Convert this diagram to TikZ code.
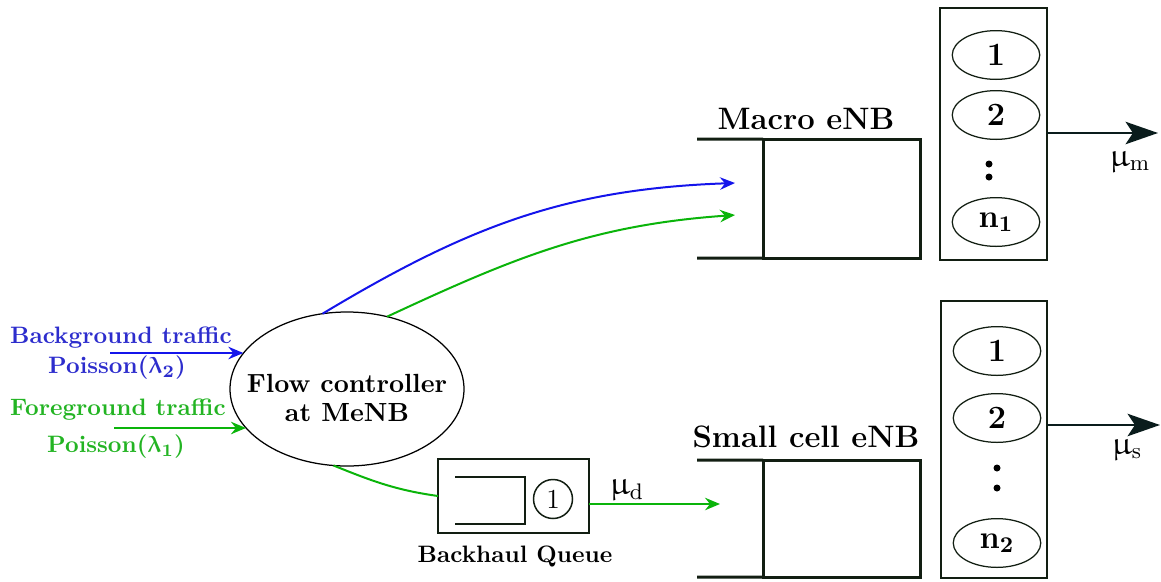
\documentclass[tikz,border=0pt]{standalone}
\usepackage{amsmath}
\usepackage{upgreek}
\usepackage{bm}
\usetikzlibrary{shapes.geometric,arrows.meta}
\definecolor{bgblue}{RGB}{20,20,235}
\definecolor{bgtext}{RGB}{45,45,205}
\definecolor{fggreen}{RGB}{10,180,10}
\definecolor{fgtext}{RGB}{35,180,35}
\definecolor{qline}{RGB}{18,30,18}
\definecolor{outarrow}{RGB}{10,28,28}
\tikzset{
  qedge/.style={draw=qline,line width=1.2pt},
  srvbox/.style={draw=qline,line width=0.6pt,rectangle,inner sep=0pt,outer sep=0pt},
  srv/.style={draw=qline,ellipse,line width=0.5pt,minimum width=35pt,minimum height=19.5pt,inner sep=0pt,font=\fontsize{13}{14}\selectfont\bfseries},
  flowarrow/.style={line width=0.8pt,-{Stealth[length=6pt,width=5pt,inset=2pt]}},
  bigarrow/.style={draw=outarrow,line width=0.8pt,-{Stealth[length=13pt,width=9pt,inset=3pt]}},
  lbl/.style={inner sep=0pt,font=\fontsize{9.5}{11}\selectfont\bfseries},
  title/.style={inner sep=0pt,font=\fontsize{12.4}{14}\selectfont\bfseries},
  mulbl/.style={inner sep=0pt,font=\fontsize{13}{14}\selectfont},
  dotc/.style={circle,fill=black,inner sep=0pt,minimum size=2.8pt},
}
\begin{document}
\begin{tikzpicture}[x=0.4pt,y=0.4pt]
\useasboundingbox (0,0) rectangle (1161,-581);

% flow controller
\node[draw,ellipse,line width=0.5pt,minimum width=93.6pt,minimum height=61.6pt,inner sep=0pt,outer sep=0pt] (fc) at (347,-389) {};
\node[align=center,inner sep=0pt,font=\fontsize{10.5}{11.5}\selectfont\bfseries] (fct) at (347,-398) {Flow controller\\at MeNB};

% input traffic
\node[lbl,text=bgtext] (bgl) at (121,-338) {Background traffic};
\node[lbl,text=bgtext] (bgp) at (117,-368) {Poisson($\bm{\uplambda_2}$)};
\node[lbl,text=fgtext] (fgl) at (118,-410) {Foreground traffic};
\node[lbl,text=fgtext] (fgp) at (116,-447) {Poisson($\bm{\uplambda_1}$)};
\coordinate (bgs) at (110,-353);
\coordinate (fgs) at (114,-428);
\draw[flowarrow,bgblue] (bgs) -- (bgs -| fc.161);
\draw[flowarrow,fggreen] (fgs) -- (fgs -| fc.201);

% macro eNB queue
\node[rectangle,qedge,minimum width=62.8pt,minimum height=47.6pt,inner sep=0pt,outer sep=0pt] (mq) at (841.5,-198.5) {};
\coordinate (mqt) at (697,-139);
\coordinate (mqb) at (697,-258);
\draw[qedge] (mqt) -- (mq.north west);
\draw[qedge] (mqb) -- (mq.south west);
\node[title] (mql) at (806,-119) {Macro eNB};

% macro servers
\node[srvbox,minimum width=42.8pt,minimum height=100.8pt] (ms) at (993.5,-134) {};
\node[srv] (m1) at (996,-55) {1};
\node[srv] (m2) at (996,-115) {2};
\node[dotc] (md1) at (989,-164) {};
\node[dotc] (md2) at (989,-177) {};
\node[srv] (mn) at (996,-222) {n$_{\mathbf 1}$};
\coordinate (mout) at (1158,-133);
\draw[bigarrow] (ms.east |- mout) -- (mout);
\node[mulbl] (mum) at (1130,-162) {$\upmu_{\mathrm m}$};

% curves to macro
\coordinate (mbin) at (735,-183);
\coordinate (mgin) at (735,-215);
\draw[flowarrow,bgblue] (fc.108) to[out=31,in=182] (mbin);
\draw[flowarrow,fggreen] (fc.61) to[out=25,in=184] (mgin);

% small cell queue
\node[rectangle,qedge,minimum width=62.8pt,minimum height=46.8pt,inner sep=0pt,outer sep=0pt] (sq) at (841.5,-518.5) {};
\coordinate (sqt) at (697,-460);
\coordinate (sqb) at (697,-577);
\draw[qedge] (sqt) -- (sq.north west);
\draw[qedge] (sqb) -- (sq.south west);
\node[title] (sql) at (806,-437) {Small cell eNB};

% small cell servers
\node[srvbox,minimum width=42.4pt,minimum height=110.8pt] (ss) at (994,-439.5) {};
\node[srv] (s1) at (997,-351) {1};
\node[srv] (s2) at (997,-418) {2};
\node[dotc] (sd1) at (997,-468) {};
\node[dotc] (sd2) at (997,-488) {};
\node[srv] (sn) at (997,-543) {n$_{\mathbf 2}$};
\coordinate (sout) at (1160,-425);
\draw[bigarrow] (ss.east |- sout) -- (sout);
\node[mulbl] (mus) at (1127,-450) {$\upmu_{\mathrm s}$};

% backhaul queue
\node[srvbox,line width=0.8pt,minimum width=60.4pt,minimum height=29.6pt] (bh) at (513.5,-496) {};
\draw[qedge,line width=0.9pt] (455,-477) -- (525,-477) -- (525,-524) -- (455,-524);
\node[draw=qline,circle,line width=0.6pt,minimum size=15.6pt,inner sep=0pt,font=\fontsize{11}{12}\selectfont] (c1) at (553,-499) {1};
\node[lbl] (bhl) at (515,-557) {Backhaul Queue};
\draw[fggreen,line width=0.8pt] (fc.260) to[out=-22,in=172] (bh.west);
\coordinate (dend) at (720,-504);
\draw[flowarrow,fggreen] (bh.east |- dend) -- (dend);
\node[mulbl] (mud) at (627,-490) {$\upmu_{\mathrm d}$};
\end{tikzpicture}
\end{document}
